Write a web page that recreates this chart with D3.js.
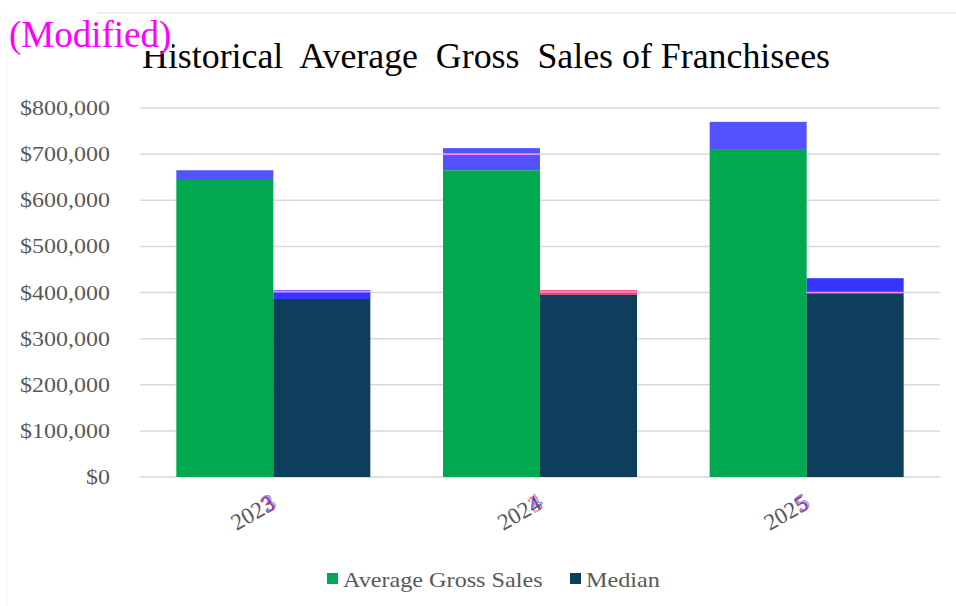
<!DOCTYPE html>
<html>
<head>
<meta charset="utf-8">
<script src="https://cdn.jsdelivr.net/npm/d3@7"></script>
<style>
  body { margin: 0; background: #fff; }
  svg { display: block; }
  text { font-family: "Liberation Serif", "Times New Roman", serif; }
</style>
</head>
<body>
<div id="chart"></div>
<script>
// ── data ──
const years = ["2023", "2024", "2025"];
const seriesNames = ["Average Gross Sales", "Median"];
const avgBase = [644000, 665000, 711000];     // visible green part
const avgTop = [665000, 713000, 770000];      // top of the blue overlay
const medianBase = [386000, 395000, 397000];  // visible navy part
const medianTop = [405000, 405000, 431000];   // top of overlay
const medianOverlayKind = ["add", "remove", "add"];
const avgMarkLine = [null, 700000, null];
const medianMarkLine = [402000, 401000, 400000];
const yTicks = [0, 100000, 200000, 300000, 400000, 500000, 600000, 700000, 800000];
const labelOldDigit = ["3", "3", "5"];
const labelNewDigit = ["3", "4", "5"];

const W = 956, H = 606;
const margin = { top: 108, right: 16, bottom: 129, left: 140 };
const w = W - margin.left - margin.right;
const h = H - margin.top - margin.bottom;

const COLORS = { avg: "#00a84f", median: "#0d3f5c", addAvg: "#5252ff", addMed: "#3535ff", remove: "#ff3c5a", mark: "#ff88ff" };
const GREY = "#595959";

const svg = d3.select("#chart").append("svg").attr("width", W).attr("height", H);

// frame
svg.append("line").attr("x1", 97).attr("x2", W).attr("y1", 13).attr("y2", 13)
  .attr("stroke", "#e6e6e6").attr("stroke-width", 1.5);
svg.append("line").attr("x1", 7).attr("x2", 7).attr("y1", 13).attr("y2", H)
  .attr("stroke", "#f0f0f0").attr("stroke-width", 1);

// title
svg.append("text").attr("x", 142).attr("y", 68)
  .style("font-size", "35px").style("fill", "#000")
  .attr("xml:space", "preserve")
  .attr("textLength", 688).attr("lengthAdjust", "spacingAndGlyphs")
  .text("Historical  Average  Gross  Sales of Franchisees");

const g = svg.append("g").attr("transform", `translate(${margin.left},${margin.top})`);

const x = d3.scaleBand().domain(years).range([0, w]).paddingInner(0.2725).paddingOuter(0.13625);
const xs = d3.scaleBand().domain(["avg", "median"]).range([0, x.bandwidth()]);
const y = d3.scaleLinear().domain([0, 800000]).range([h, 0]);

// grid
g.append("g").selectAll("line").data(yTicks).enter().append("line")
  .attr("x1", 0).attr("x2", w).attr("y1", d => y(d)).attr("y2", d => y(d))
  .attr("stroke", "#d9d9d9").attr("stroke-width", 1.5);

// y axis labels (slightly wide type, as in the source)
const fmt = d3.format("$,.0f");
g.append("g").selectAll("text").data(yTicks).enter().append("text")
  .attr("transform", d => `translate(-30,${y(d) + 7}) scale(1.17,1)`)
  .attr("text-anchor", "end")
  .style("font-size", "20.5px").style("fill", GREY)
  .text(d => fmt(d));

// bars
const rows = years.map((yr, i) => ({
  yr, i,
  avg: avgBase[i], avgTop: avgTop[i], med: medianBase[i], medTop: medianTop[i],
  kind: medianOverlayKind[i], avgMark: avgMarkLine[i], medMark: medianMarkLine[i]
}));

const grp = g.selectAll(".grp").data(rows).enter().append("g")
  .attr("transform", d => `translate(${x(d.yr)},0)`);

// overlays first (behind the base bars)
grp.append("rect")
  .attr("x", xs("avg")).attr("width", xs.bandwidth())
  .attr("y", d => y(d.avgTop)).attr("height", d => y(d.avg) - y(d.avgTop))
  .attr("fill", COLORS.addAvg);
grp.append("rect")
  .attr("x", xs("median")).attr("width", xs.bandwidth())
  .attr("y", d => y(d.medTop)).attr("height", d => y(d.med) - y(d.medTop))
  .attr("fill", d => d.kind === "add" ? COLORS.addMed : COLORS.remove);

grp.append("rect")
  .attr("x", xs("avg")).attr("width", xs.bandwidth())
  .attr("y", d => y(d.avg)).attr("height", d => h - y(d.avg))
  .attr("fill", COLORS.avg);
grp.append("rect")
  .attr("x", xs("median")).attr("width", xs.bandwidth())
  .attr("y", d => y(d.med)).attr("height", d => h - y(d.med))
  .attr("fill", COLORS.median);

// thin marker lines inside overlays
grp.filter(d => d.avgMark != null).append("line")
  .attr("x1", xs("avg")).attr("x2", xs("avg") + xs.bandwidth())
  .attr("y1", d => y(d.avgMark)).attr("y2", d => y(d.avgMark))
  .attr("stroke", COLORS.mark).attr("stroke-width", 1.6);
grp.filter(d => d.medMark != null).append("line")
  .attr("x1", xs("median")).attr("x2", xs("median") + xs.bandwidth())
  .attr("y1", d => y(d.medMark)).attr("y2", d => y(d.medMark))
  .attr("stroke", COLORS.mark).attr("stroke-width", 1.6);

// x labels (rotated)
const lab = g.selectAll(".xl").data(rows).enter().append("g")
  .attr("transform", d => `translate(${x(d.yr) + x.bandwidth() / 2 + 3},${h + 31}) rotate(-30)`);
lab.append("text").attr("text-anchor", "end")
  .style("font-size", "23px").style("fill", GREY).text(d => d.yr);
lab.append("text").attr("text-anchor", "end").attr("dx", 1)
  .style("font-size", "23px").style("fill", "none")
  .style("stroke", "#ff3c3c").style("stroke-width", 0.5)
  .text(d => labelOldDigit[d.i]);
lab.append("text").attr("text-anchor", "end").attr("dx", 2).attr("dy", -1)
  .style("font-size", "23px").style("fill", "none")
  .style("stroke", "#3c3cff").style("stroke-width", 0.5)
  .text(d => labelNewDigit[d.i]);

// legend
const legendItems = [{ name: seriesNames[0], c: COLORS.avg, x: 327 }, { name: seriesNames[1], c: COLORS.median, x: 570 }];
const legend = svg.append("g");
legend.selectAll("rect").data(legendItems).enter().append("rect")
  .attr("x", d => d.x).attr("y", 573).attr("width", 11).attr("height", 11).attr("fill", d => d.c);
legend.selectAll("text").data(legendItems).enter().append("text")
  .attr("transform", d => `translate(${d.x + 16},587) scale(1.18,1)`)
  .style("font-size", "20.5px").style("fill", GREY).text(d => d.name);

// "(Modified)" stamp on a white patch that hides the top of the title's H
svg.append("rect").attr("x", 0).attr("y", 15).attr("width", 172).attr("height", 36).attr("fill", "#fff");
svg.append("text").attr("x", 9).attr("y", 47)
  .style("font-size", "37px").style("fill", "#ff00ff")
  .text("(Modified)");
</script>
</body>
</html>
